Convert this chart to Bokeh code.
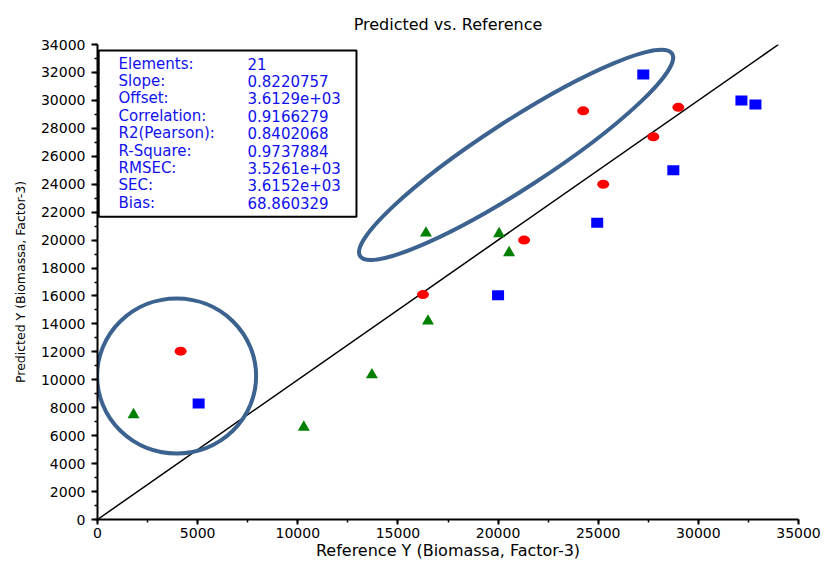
from bokeh.plotting import figure
from bokeh.models import Range1d, SingleIntervalTicker, BoxAnnotation
from bokeh.core.properties import value
from bokeh.embed import file_html
from bokeh.resources import INLINE

# ---- data ----
red_x = [4150, 16250, 21300, 24250, 25250, 27750, 29000]
red_y = [12050, 16100, 20000, 29250, 24000, 27400, 29500]
blue_x = [5050, 20000, 24950, 27250, 28750, 32150, 32850]
blue_y = [8300, 16050, 21250, 31850, 25000, 30000, 29700]
green_x = [1800, 10300, 13700, 16400, 16500, 20050, 20550]
green_y = [7500, 6600, 10350, 20500, 14200, 20450, 19100]

ideal_x = [0, 34000]
ideal_y = [0, 34000]

stat_labels = ["Elements:", "Slope:", "Offset:", "Correlation:", "R2(Pearson):",
               "R-Square:", "RMSEC:", "SEC:", "Bias:"]
stat_values = ["21", "0.8220757", "3.6129e+03", "0.9166279", "0.8402068",
               "0.9737884", "3.5261e+03", "3.6152e+03", "68.860329"]

# highlighted groups (centre in data units, size in screen px, angle in deg)
hl_x = [3950, 20900]
hl_y = [10270, 26100]
hl_w = [159, 372]
hl_h = [155, 67]
hl_angle = [0, 33]

FONT = "DejaVu Sans"

p = figure(width=825, height=562, output_backend="svg", toolbar_location=None,
           x_range=Range1d(0, 35000), y_range=Range1d(0, 34000),
           min_border_left=97, min_border_right=27, min_border_top=44,
           min_border_bottom=41)
p.outline_line_color = None
p.xgrid.visible = False
p.ygrid.visible = False
p.background_fill_color = "white"
p.border_fill_color = "white"

p.title.text = "Predicted vs. Reference"
p.title.align = "center"
p.title.offset = -31
p.title.standoff = 22
p.title.text_font = FONT
p.title.text_font_size = "16px"
p.title.text_font_style = "normal"
p.title.text_color = "black"

for ax in (p.xaxis[0], p.yaxis[0]):
    ax.axis_line_width = 2
    ax.axis_line_color = "black"
    ax.major_tick_line_width = 2
    ax.minor_tick_line_width = 1.5
    ax.major_tick_in = 0
    ax.minor_tick_in = 0
    ax.major_label_text_font = FONT
    ax.major_label_text_font_size = "14px"
    ax.major_label_text_color = "black"
    ax.axis_label_text_font = FONT
    ax.axis_label_text_font_style = "normal"
    ax.axis_label_text_color = "black"

p.xaxis.ticker = SingleIntervalTicker(interval=5000, num_minor_ticks=2)
p.yaxis.ticker = SingleIntervalTicker(interval=2000, num_minor_ticks=2)
p.xaxis.major_tick_out = 5
p.xaxis.minor_tick_out = 3
p.yaxis.major_tick_out = 6
p.yaxis.minor_tick_out = 3
p.xaxis.major_label_standoff = 3
p.yaxis.major_label_standoff = 6
p.xaxis.axis_label = "Reference Y (Biomassa, Factor-3)"
p.yaxis.axis_label = "Predicted Y (Biomassa, Factor-3)"
p.xaxis.axis_label_text_font_size = "16px"
p.yaxis.axis_label_text_font_size = "12.5px"
p.xaxis.axis_label_standoff = 0
p.yaxis.axis_label_standoff = 10

# statistics box (drawn beneath the glyphs)
box_left, box_right, box_top, box_bottom = 60, 12930, 33570, 21670
p.add_layout(BoxAnnotation(left=box_left, right=box_right, top=box_top,
                           bottom=box_bottom, fill_color="white", fill_alpha=1.0,
                           line_color="black", line_alpha=1.0, line_width=2,
                           level="underlay"))

# identity line
p.line(ideal_x, ideal_y, line_color="black", line_width=1.5)

# points
p.ellipse(x=red_x, y=red_y, width=12, height=9, width_units="screen",
          height_units="screen", fill_color="#ff0000", line_color=None)
p.rect(x=blue_x, y=blue_y, width=12, height=10, width_units="screen",
       height_units="screen", fill_color="#0000ff", line_color=None)
p.scatter(x=green_x, y=green_y, marker="triangle", size=12,
          fill_color="#008000", line_color=None)

# highlight ellipses
p.ellipse(x=hl_x, y=hl_y, width=hl_w, height=hl_h, angle=hl_angle,
          angle_units="deg", width_units="screen", height_units="screen",
          fill_color=None, line_color="#3c6390", line_width=4)

row_top = 32640
row_step = 1247
ys = [row_top - i * row_step for i in range(len(stat_labels))]
p.text(x=[1050] * len(stat_labels), y=ys, text=stat_labels,
       text_font=value(FONT), text_font_size="15px", text_color="#1010f0",
       text_baseline="middle")
p.text(x=[7490] * len(stat_values), y=ys, text=stat_values,
       text_font=value(FONT), text_font_size="15px", text_color="#1010f0",
       text_baseline="middle")

open("out.html", "w").write(file_html(p, INLINE))
